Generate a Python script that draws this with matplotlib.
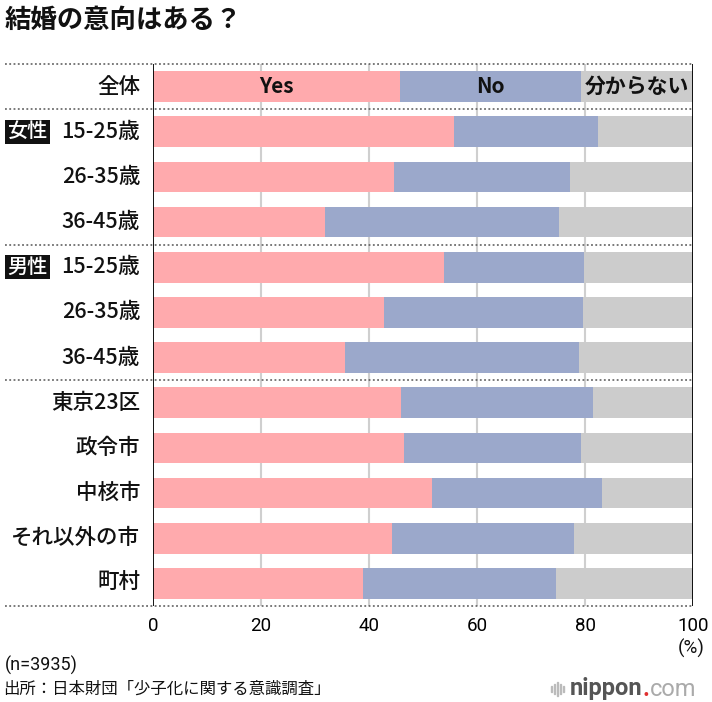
import matplotlib
matplotlib.use("Agg")
import matplotlib.pyplot as plt
from matplotlib.patches import Rectangle
import matplotlib.transforms as mtransforms

plt.rcParams['font.family'] = ['Noto Sans CJK JP', 'DejaVu Sans']

categories = ['全体', '15-25歳', '26-35歳', '36-45歳', '15-25歳', '26-35歳', '36-45歳',
              '東京23区', '政令市', '中核市', 'それ以外の市', '町村']
group_tags = {1: '女性', 4: '男性'}
yes_vals = [45.8, 55.8, 44.7, 31.8, 53.9, 42.8, 35.6, 46.0, 46.5, 51.6, 44.2, 38.9]
no_vals = [33.5, 26.6, 32.5, 43.3, 26.0, 36.9, 43.3, 35.5, 32.7, 31.6, 33.7, 35.8]
dk_vals = [100 - y - n for y, n in zip(yes_vals, no_vals)]
series_names = ['Yes', 'No', '分からない']
xticks = [0, 20, 40, 60, 80, 100]
separators = [-0.5, 0.5, 3.5, 6.5, 11.5]

c_yes = '#FFAAAD'
c_no = '#9BA8CB'
c_dk = '#CCCCCC'

fig = plt.figure(figsize=(7.12, 7.02), dpi=100)
ax = fig.add_axes([153/712, 1-606/702, 540/712, 542/702])

ypos = list(range(len(categories)))
h = 0.68
ax.barh(ypos, yes_vals, height=h, color=c_yes, zorder=2)
ax.barh(ypos, no_vals, left=yes_vals, height=h, color=c_no, zorder=2)
lefts = [y + n for y, n in zip(yes_vals, no_vals)]
ax.barh(ypos, dk_vals, left=lefts, height=h, color=c_dk, zorder=2)

ax.set_xlim(0, 100)
ax.set_ylim(11.5, -0.5)
for x in xticks[1:-1]:
    ax.axvline(x, color='#cfcfcf', lw=1.5, zorder=1)
ax.axvline(0, color='black', lw=1.3, zorder=3)
ax.axvline(100, color='black', lw=1.3, zorder=3)
for s in ax.spines.values():
    s.set_visible(False)
ax.set_yticks([])
ax.set_xticks(xticks)
ax.set_xticklabels([str(t) for t in xticks], fontsize=13.5, family=['Roboto', 'DejaVu Sans'])
ax.tick_params(axis='x', length=0, pad=8)

trans = mtransforms.blended_transform_factory(ax.transAxes, ax.transData)
for sy in separators:
    ax.plot([-0.274, 1.0], [sy, sy], transform=trans, color='#555555', lw=1.1,
            ls=(0, (1.2, 1.6)), clip_on=False, zorder=4)

# category labels
for i, c in enumerate(categories):
    ax.text(-0.024, i, c, transform=trans, ha='right', va='center', fontsize=15.5,
            color='#111111', fontweight='medium')
for i, tag in group_tags.items():
    ax.text(-0.233, i, tag, transform=trans, ha='center', va='center', fontsize=14.5,
            color='white', fontweight='medium',
            bbox=dict(boxstyle='square,pad=0.12', fc='#111111', ec='none'))

# series labels inside first bar
ax.text(yes_vals[0] / 2, 0, series_names[0], ha='center', va='center', fontsize=15,
        fontweight='bold', color='#111111', zorder=5)
ax.text(yes_vals[0] + no_vals[0] / 2, 0, series_names[1], ha='center', va='center',
        fontsize=15, fontweight='bold', color='#111111', zorder=5)
ax.text(lefts[0] + dk_vals[0] / 2, 0, series_names[2], ha='center', va='center',
        fontsize=15, fontweight='bold', color='#111111', zorder=5)

# title and notes
fig.text(5/712, 1-20/702, '結婚の意向はある？', fontsize=19, fontweight='bold',
         ha='left', va='center', color='#111111')
fig.text(705/712, 1-648/702, '(%)', fontsize=13.5, ha='right', va='center',
         family=['Roboto', 'DejaVu Sans'], color='#111111')
fig.text(5/712, 1-665/702, '(n=3935)', fontsize=13, ha='left', va='center', color='#111111',
         family=['Roboto', 'DejaVu Sans'])
fig.text(3/712, 1-689/702, '出所：日本財団「少子化に関する意識調査」', fontsize=11.8,
         ha='left', va='center', color='#111111')

# logo
for k, hh in enumerate([6, 10, 14, 10, 6]):
    fig.add_artist(Rectangle(((551 + k*3)/712, (1-689/702) - hh/2/702), 1.4/712, hh/702,
                             transform=fig.transFigure, color='#bbbbbb'))
t1 = fig.text(570/712, 1-689/702, 'nippon', fontsize=17, fontweight='bold', color='#555555',
              ha='left', va='center', family=['Roboto', 'DejaVu Sans'])
fig.canvas.draw()
bb = t1.get_window_extent()
t2 = fig.text(bb.x1/712, 1-689/702, '.', fontsize=17, fontweight='bold', color='#e03030',
              ha='left', va='center', family=['Roboto', 'DejaVu Sans'])
fig.canvas.draw()
bb2 = t2.get_window_extent()
fig.text(bb2.x1/712, 1-689/702, 'com', fontsize=17, color='#aaaaaa',
         ha='left', va='center', family=['Roboto', 'DejaVu Sans'])

fig.savefig('out.png', dpi=100)
